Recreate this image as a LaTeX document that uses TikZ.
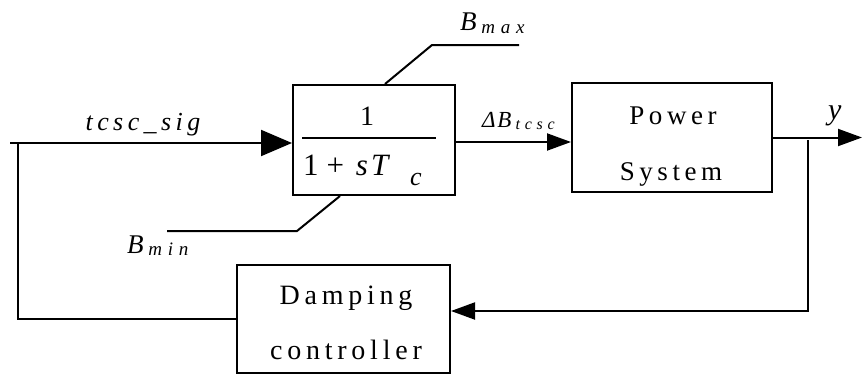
\documentclass[tikz,border=0pt]{standalone}
\usepackage{fontspec}
\setmainfont{Liberation Serif}
\newfontfamily\espace[LetterSpace=17]{Liberation Serif}
\newfontfamily\indice[LetterSpace=30]{Liberation Serif}
\newcommand{\taille}[1]{\fontsize{#1}{#1}\selectfont}
\usetikzlibrary{arrows.meta}

\begin{document}
\begin{tikzpicture}[
        x=1pt, y=-1pt,
        line width=2pt,
        bloc/.style = {draw, line width=2pt, inner sep=0pt},
        fleche/.style = {-{Triangle[length=24pt, width=17pt]}},
        grandefleche/.style = {-{Triangle[length=31pt, width=26pt]}},
        txt/.style = {inner sep=0pt, anchor=base}
    ]
        \useasboundingbox (0,0) rectangle (862,375);

        % Blocs
        \node[bloc, minimum width=162, minimum height=110] (F) at (374,140) {};
        \node[bloc, minimum width=200, minimum height=109] (P) at (672,137.5) {};
        \node[bloc, minimum width=213, minimum height=108] (D) at (343.5,319) {};

        % Textes des blocs
        \node[txt, font=\espace\taille{27}] (P1) at (673,124) {Power};
        \node[txt, font=\espace\taille{27}] (P2) at (671,180) {System};
        \node[txt, font=\espace\taille{28}] (D1) at (346,304) {Damping};
        \node[txt, font=\espace\taille{28}] (D2) at (346,359) {controller};

        % Fonction de transfert 1/(1+sTc)
        \node[txt, font=\taille{28}] (num) at (367,125) {1};
        \draw (302,138) -- (436,138);
        \node[txt, anchor=base west, font=\taille{31}] (den) at (302,175) {1\hspace{8pt}+\hspace{12pt}\textit{s\hspace{3pt}T}};
        \node[txt, anchor=base west, font=\itshape\taille{26}] (den2) at (409,185) {c};

        % Limites
        \draw (F.north -| 385,0) -- (432,45) -- (519,45);
        \draw (F.south -| 340,0) -- (297,231) -- (167,231);
        \node[txt, anchor=base west, font=\itshape\taille{27}] (Bmax) at (459,30) {B\hspace{5pt}\raisebox{-3pt}{\indice\taille{19}max}};
        \node[txt, anchor=base west, font=\itshape\taille{27}] (Bmin) at (126,253) {B\hspace{5pt}\raisebox{-2pt}{\indice\taille{19}min}};

        % Signaux
        \coordinate (entree) at (10,143);
        \coordinate (gauche) at (18,143);
        \coordinate (sortie) at (862,137);
        \coordinate (branche) at (808,140);
        \coordinate (retour) at (808,311);
        \draw[grandefleche] (entree) -- (entree -| F.west);
        \draw[fleche] (F.east |- 0,142) -- (P.west |- 0,142);
        \draw[fleche] (P.east) -- (P.east -| sortie);
        \draw[fleche] (branche) -- (retour) -- (retour -| D.east);
        \draw (D.west) -| (gauche);

        \node[txt, font=\espace\itshape\taille{26}] (sig) at (143,130) {tcsc\_sig};
        \node[txt, anchor=base west, font=\itshape\taille{23}] (dB) at (481,127) {Δ\hspace{2pt}B\hspace{4pt}\raisebox{-2pt}{\indice\taille{16}tcsc}};
        \node[txt, anchor=base west, font=\itshape\taille{30}] (y) at (827,119) {y};
    \end{tikzpicture}
\end{document}
